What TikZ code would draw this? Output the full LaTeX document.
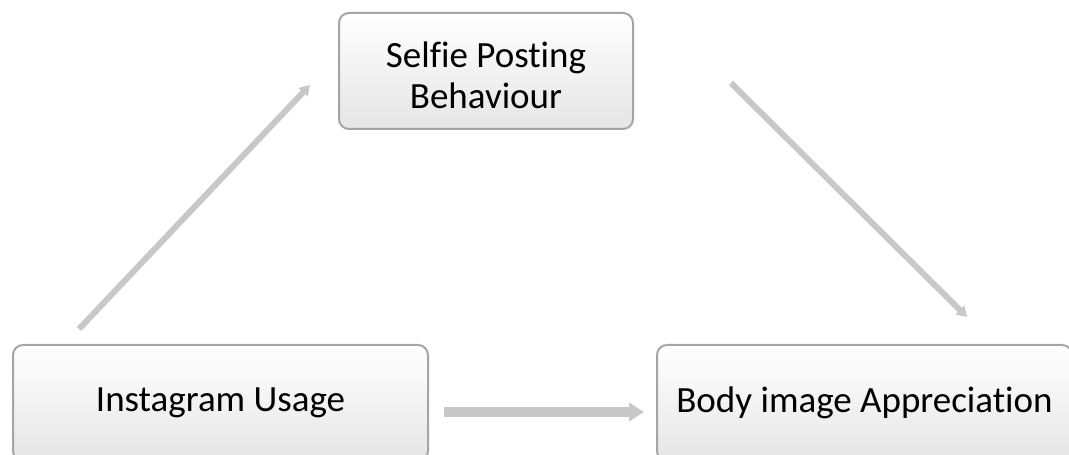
\documentclass[tikz,border=0pt]{standalone}
\usepackage{fontspec}
\setmainfont[Ligatures=CommonOff]{Carlito}
\usetikzlibrary{calc}
\usetikzlibrary{arrows.meta,positioning}
\definecolor{boxline}{RGB}{165,165,165}
\definecolor{arrowgrey}{RGB}{200,200,200}
\tikzset{
  varbox/.style={draw=boxline,line width=2pt,rounded corners=10pt,
    top color=white,middle color=white,bottom color=black!10,
    minimum width=415pt,minimum height=116pt,align=center,
    font=\fontsize{37}{41}\selectfont},
  thinarrow/.style={draw=arrowgrey,line width=6pt,-{Triangle[length=10pt,width=12pt]}},
  fatarrow/.style={draw=arrowgrey,line width=10pt,-{Triangle[length=15pt,width=18pt]}}
}
\begin{document}
\begin{tikzpicture}[x=1pt,y=1pt]
    \clip (0,0) rectangle (1069,455);
    \node[varbox,minimum width=294pt] (selfie) at (486,384) {\\[-6pt]Selfie Posting\\Behaviour};
    \node[varbox] (usage) at (220.5,52) {Instagram Usage};
    \node[varbox] (appreciation) at (864.5,52) {Body image Appreciation};
    % free ends of the paths
    \coordinate (a1) at ($(usage.north west)+(67,15)$);
    \coordinate (a2) at ($(selfie.west)+(-28,-14)$);
    \coordinate (b1) at ($(selfie.east)+(97,-12)$);
    \coordinate (b2) at ($(appreciation.north west)+(311,27)$);
    \coordinate (c1) at ($(usage.east)+(15,-9)$);
    \coordinate (c2) at ($(appreciation.west)+(-12,-9)$);
    \draw[thinarrow] (a1) -- (a2);
    \draw[thinarrow] (b1) -- (b2);
    \draw[fatarrow] (c1) -- (c2);
  \end{tikzpicture}
\end{document}
